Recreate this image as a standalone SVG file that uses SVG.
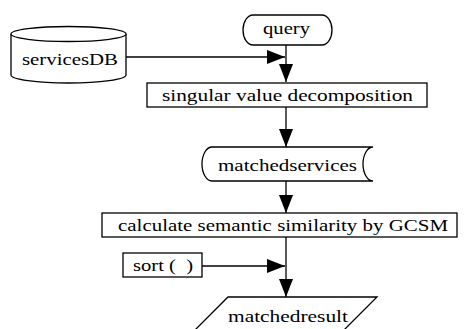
<svg xmlns="http://www.w3.org/2000/svg" width="465" height="329" viewBox="0 0 465 329">
<defs>
<style>
.s{fill:#fff;stroke:#000;stroke-width:1.3}
.t{font-family:"Liberation Serif","Times New Roman",serif;font-size:17px;fill:#000}
.c{fill:none;stroke:#000;stroke-width:1.3}
</style>
<marker id="ah" viewBox="0 0 18 14" refX="18" refY="7" markerWidth="18" markerHeight="14" markerUnits="userSpaceOnUse" orient="auto">
<path d="M0,0 L18,7 L0,14 Z" fill="#000"/>
</marker>
</defs>
<rect width="465" height="329" fill="#fff"/>
<g id="servicesDB">
<path class="s" d="M11,34 V75 A57.5,8 0 0 0 126,75 V34"/>
<ellipse class="s" cx="68.5" cy="34" rx="57.5" ry="7.5"/>
<text class="t" x="22" y="65" textLength="96" lengthAdjust="spacingAndGlyphs">servicesDB</text>
</g>
<g id="query">
<path class="s" d="M253,15 H322 A10,15 0 0 1 322,45 H253 A10,15 0 0 1 253,15 Z"/>
<text class="t" x="263" y="34" textLength="47" lengthAdjust="spacingAndGlyphs">query</text>
</g>
<g id="svd">
<rect class="s" x="147" y="83" width="280" height="24"/>
<text class="t" x="162" y="101" textLength="251" lengthAdjust="spacingAndGlyphs">singular value decomposition</text>
</g>
<g id="matchedservices">
<path class="s" d="M212,147 H373 A10,17 0 0 0 373,181 H212 A10,17 0 0 1 212,147 Z"/>
<text class="t" x="218" y="171" textLength="139" lengthAdjust="spacingAndGlyphs">matchedservices</text>
</g>
<g id="gcsm">
<rect class="s" x="102" y="213" width="355" height="24"/>
<text class="t" x="118" y="231" textLength="330" lengthAdjust="spacingAndGlyphs">calculate semantic similarity by GCSM</text>
</g>
<g id="sort">
<rect class="s" x="123" y="253" width="79" height="24"/>
<text class="t" x="133" y="271" textLength="60" lengthAdjust="spacingAndGlyphs" xml:space="preserve">sort (  )</text>
</g>
<g id="matchedresult">
<polygon class="s" points="228,297 377,297 343,331 194,331"/>
<text class="t" x="228" y="322" textLength="120" lengthAdjust="spacingAndGlyphs">matchedresult</text>
</g>
<g id="connectors">
<path class="c" d="M126,57 H285" marker-end="url(#ah)"/>
<path class="c" d="M286,45 V82" marker-end="url(#ah)"/>
<path class="c" d="M286,107 V147" marker-end="url(#ah)"/>
<path class="c" d="M286,181 V213" marker-end="url(#ah)"/>
<path class="c" d="M286,237 V297" marker-end="url(#ah)"/>
<path class="c" d="M202,266 H285" marker-end="url(#ah)"/>
</g>
</svg>
